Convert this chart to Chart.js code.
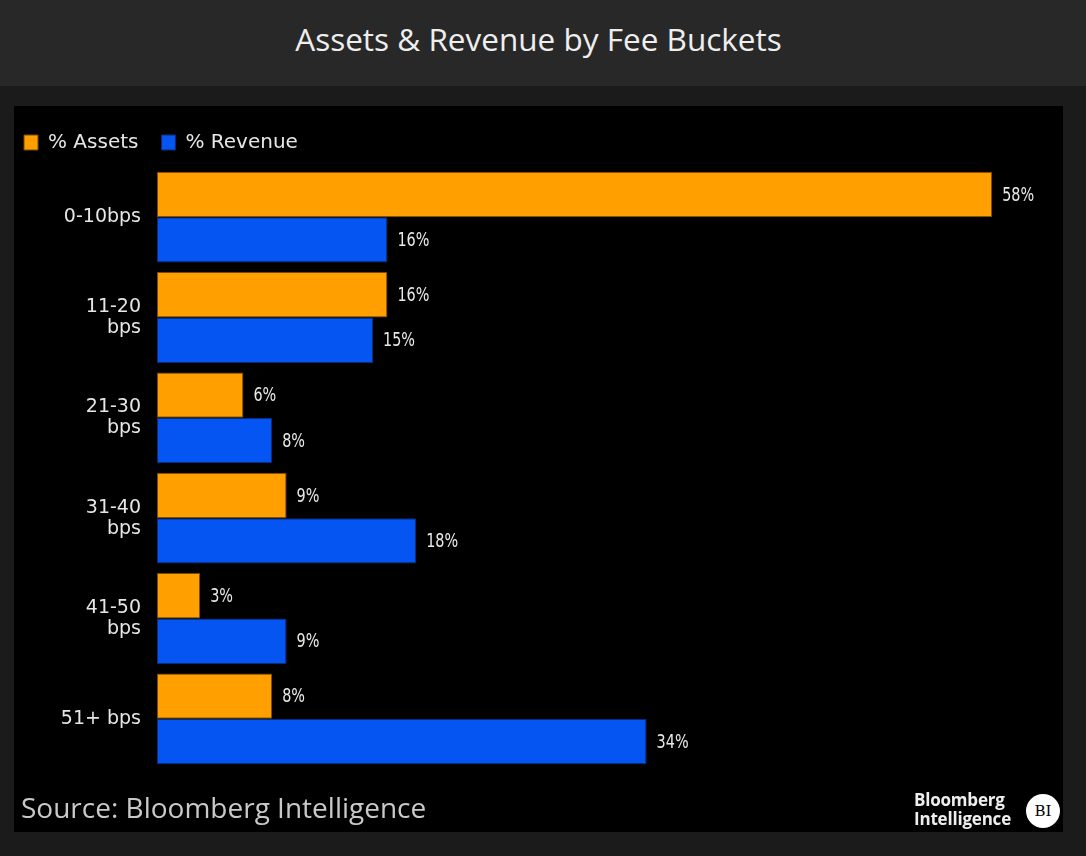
<!DOCTYPE html>
<html>
<head>
<meta charset="utf-8">
<script src="https://cdn.jsdelivr.net/npm/chart.js@4"></script>
<style>
  html, body { margin: 0; padding: 0; }
  body { width: 1086px; height: 856px; background: #1b1b1b; position: relative; overflow: hidden; }
  #header { position: absolute; left: 0; top: 0; width: 1086px; height: 86px; background: #282828; }
  #title { position: absolute; left: 0; top: 17px; width: 1077px; text-align: center; color: #eeeeee;
    font-family: "Open Sans", sans-serif; font-size: 31.5px; }
  #panel { position: absolute; left: 14px; top: 106px; width: 1049px; height: 726px; background: #000; }
  #source { position: absolute; left: 7px; top: 682px; color: #c9c9c9;
    font-family: "Open Sans", sans-serif; font-size: 28px; }
  #logo { position: absolute; left: 900px; top: 684px; color: #eeeeee; font-family: "Open Sans", sans-serif;
    font-weight: 700; font-size: 17px; line-height: 19px; letter-spacing: -0.2px; }
  #bi { position: absolute; left: 1012px; top: 688px; width: 34px; height: 34px; border-radius: 50%; background: #fff;
    color: #000; font-family: "DejaVu Serif", serif; font-size: 15px; line-height: 34px; text-align: center; }
</style>
</head>
<body>
<div id="header"><div id="title">Assets &amp; Revenue by Fee Buckets</div></div>
<div id="panel">
  <canvas id="feeChart" width="1049" height="726"></canvas>
  <div id="source">Source: Bloomberg Intelligence</div>
  <div id="logo">Bloomberg<br>Intelligence</div>
  <div id="bi">BI</div>
</div>
<script>
"use strict";

const buckets = [['0-10bps'], ['11-20', 'bps'], ['21-30', 'bps'], ['31-40', 'bps'], ['41-50', 'bps'], ['51+ bps']];
const assets = [58, 16, 6, 9, 3, 8];
const revenue = [16, 15, 8, 18, 9, 34];
const seriesNames = ['% Assets', '% Revenue'];

// stretch the legend box a bit so the plot starts where the reference does
const legendSpacer = {
  id: 'legendSpacer',
  beforeLayout: (chart) => {
    const legend = chart.legend;
    if (!legend || legend._patched) return;
    const fit = legend.fit;
    legend.fit = function () {
      fit.call(this);
      this.height += 4.5;
    };
    legend._patched = true;
  }
};

// value labels at the end of each bar, in a narrow face
const barLabels = {
  id: 'barLabels',
  afterDatasetsDraw: (chart) => {
    const ctx = chart.ctx;
    chart.data.datasets.forEach((ds, i) => {
      chart.getDatasetMeta(i).data.forEach((bar, j) => {
        ctx.save();
        ctx.font = '20px "DejaVu Sans Condensed", sans-serif';
        ctx.fillStyle = '#e8e8e8';
        ctx.textAlign = 'left';
        ctx.textBaseline = 'middle';
        ctx.translate(bar.x + 10, bar.y + 1);
        ctx.scale(0.8, 1);
        ctx.fillText(ds.data[j] + '%', 0, 0);
        ctx.restore();
      });
    });
  }
};

const ctx = document.getElementById('feeChart').getContext('2d');
const feeChart = new Chart(ctx, {
  type: 'bar',
  data: {
    labels: buckets,
    datasets: [
      {
        label: seriesNames[0],
        data: assets,
        backgroundColor: '#ff9f00',
        borderColor: '#7a4a00',
        borderWidth: 1,
        borderSkipped: false
      },
      {
        label: seriesNames[1],
        data: revenue,
        backgroundColor: '#0555f2',
        borderColor: '#0a2a7a',
        borderWidth: 1,
        borderSkipped: false
      }
    ]
  },
  options: {
    indexAxis: 'y',
    responsive: false,
    animation: false,
    layout: { padding: { top: 3.5, bottom: 63, right: 42, left: -13 } },
    datasets: { bar: { categoryPercentage: 0.905, barPercentage: 1.0 } },
    plugins: {
      legend: {
        position: 'top',
        align: 'start',
        labels: {
          boxWidth: 14,
          boxHeight: 15,
          padding: 23,
          color: '#e6e6e6',
          font: { family: '"DejaVu Sans", sans-serif', size: 20 }
        }
      },
      tooltip: { enabled: false }
    },
    scales: {
      x: {
        display: false,
        min: 0,
        max: 60
      },
      y: {
        grid: { display: false },
        border: { display: false },
        afterFit: (scale) => { scale.width = 156; },
        ticks: {
          color: '#e6e6e6',
          padding: 8,
          font: { family: '"DejaVu Sans", sans-serif', size: 19, lineHeight: 1.1 }
        }
      }
    }
  },
  plugins: [legendSpacer, barLabels]
});
</script>
</body>
</html>
